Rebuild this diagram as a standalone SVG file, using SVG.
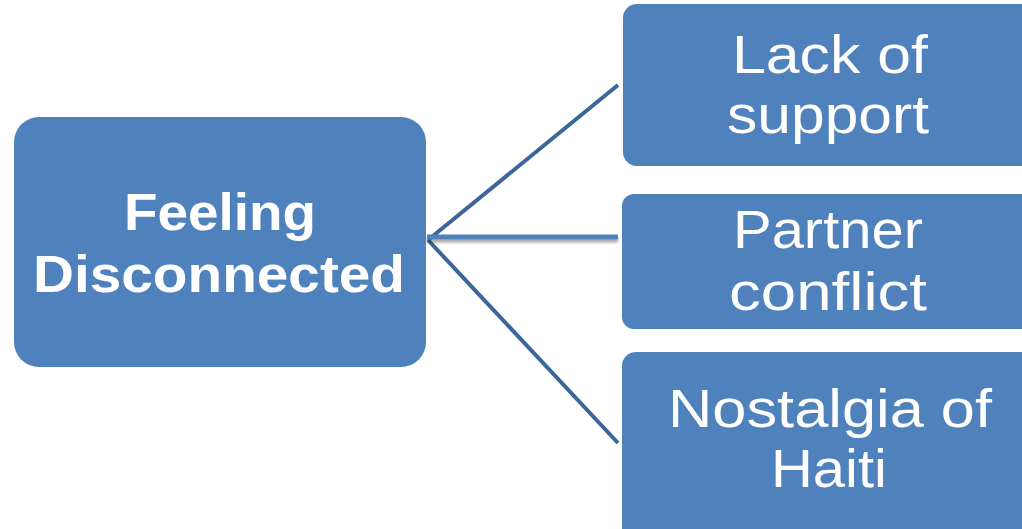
<svg xmlns="http://www.w3.org/2000/svg" width="1022" height="529" viewBox="0 0 1022 529">
<style>
.node{fill:#4f81bd}
.t{fill:#fff;font-family:"Liberation Sans","DejaVu Sans",sans-serif;text-anchor:middle}
.tb{font-weight:bold;font-size:52px}
.tr{font-size:53px}
.c{stroke:#3c6699;stroke-width:4;fill:none}
.cm{stroke:#4f81bd;stroke-width:5;fill:none}
</style>
<defs>
<filter id="sh" filterUnits="userSpaceOnUse" x="400" y="220" width="240" height="40">
<feGaussianBlur in="SourceAlpha" stdDeviation="1.5"/>
<feOffset dx="0" dy="3"/>
<feComponentTransfer><feFuncA type="linear" slope="0.35"/></feComponentTransfer>
<feMerge><feMergeNode/><feMergeNode in="SourceGraphic"/></feMerge>
</filter>
</defs>
<rect width="1022" height="529" fill="#fff"/>
<g id="connectors">
<line class="c" x1="428" y1="240" x2="618" y2="85"/>
<line class="c" x1="428" y1="240" x2="618" y2="443"/>
<line class="cm" x1="427" y1="237" x2="618" y2="237" filter="url(#sh)"/>
</g>
<g id="n-feeling">
<rect class="node" x="14" y="117" width="412" height="250" rx="25"/>
<text class="t tb" x="220" y="230" textLength="192" lengthAdjust="spacingAndGlyphs">Feeling</text>
<text class="t tb" x="219" y="292" textLength="372" lengthAdjust="spacingAndGlyphs">Disconnected</text>
</g>
<g id="n-lack">
<rect class="node" x="623" y="4" width="420" height="162" rx="14"/>
<text class="t tr" x="830" y="73" textLength="196" lengthAdjust="spacingAndGlyphs">Lack of</text>
<text class="t tr" x="828" y="133" textLength="202" lengthAdjust="spacingAndGlyphs">support</text>
</g>
<g id="n-partner">
<rect class="node" x="622" y="194" width="420" height="135" rx="12"/>
<text class="t tr" x="828" y="248" textLength="190" lengthAdjust="spacingAndGlyphs">Partner</text>
<text class="t tr" x="828" y="310" textLength="198" lengthAdjust="spacingAndGlyphs">conflict</text>
</g>
<g id="n-nostalgia">
<rect class="node" x="622" y="352" width="420" height="200" rx="14"/>
<text class="t tr" x="830" y="427" textLength="324" lengthAdjust="spacingAndGlyphs">Nostalgia of</text>
<text class="t tr" x="829" y="487" textLength="116" lengthAdjust="spacingAndGlyphs">Haiti</text>
</g>
</svg>
